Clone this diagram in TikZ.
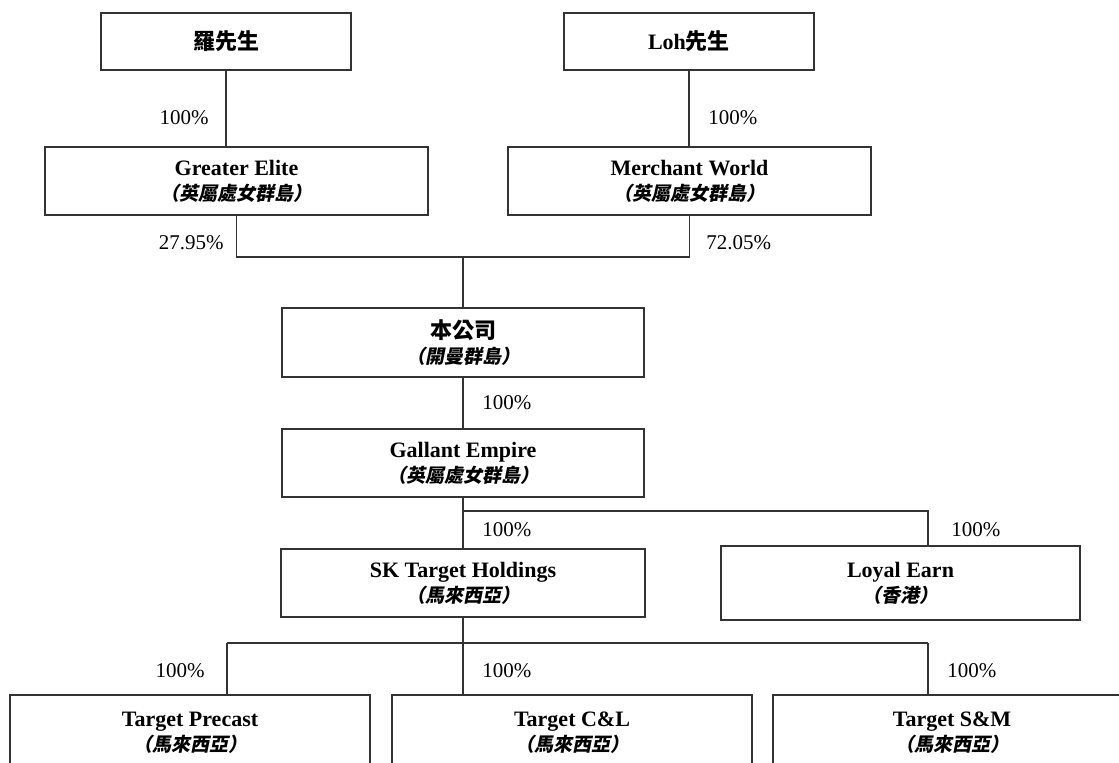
\documentclass[tikz,border=0pt]{standalone}
\usepackage{fontspec}
\setmainfont{Liberation Serif}
\newfontfamily\cjk{Noto Sans CJK TC}
\newfontfamily\cjkit[FakeSlant=0.2]{Noto Sans CJK TC}
\newcommand{\loc}[1]{{\cjkit\fontsize{9.5}{12.5}\selectfont （#1）}}

\begin{document}
\begin{tikzpicture}[x=0.5pt, y=-0.5pt,
    ent/.style={draw=black!80, line width=0.6pt, align=center, inner sep=0pt, font=\fontsize{11}{12.5}\selectfont\bfseries},
    pct/.style={inner sep=0pt, font=\fontsize{10.5}{12}\selectfont},
    link/.style={draw=black!80, line width=0.6pt}]
    \useasboundingbox (0,0) rectangle (1119,763);
    \clip (0,0) rectangle (1119,763);

    \node[ent, minimum width=125pt, minimum height=28.5pt] (luo) at (226,41.5) {\cjk 羅先生};
    \node[ent, minimum width=125pt, minimum height=28.5pt] (loh) at (689,41.5) {Loh{\cjk 先生}};
    \node[ent, minimum width=191.5pt, minimum height=34pt] (ge) at (236.5,181) {Greater Elite\\\loc{英屬處女群島}};
    \node[ent, minimum width=181.5pt, minimum height=34pt] (mw) at (689.5,181) {Merchant World\\\loc{英屬處女群島}};
    \node[ent, minimum width=181pt, minimum height=34.5pt] (co) at (463,342.5) {{\cjk 本公司}\\\loc{開曼群島}};
    \node[ent, minimum width=181pt, minimum height=34pt] (gal) at (463,463) {Gallant Empire\\\loc{英屬處女群島}};
    \node[ent, minimum width=182pt, minimum height=34pt] (skt) at (463,583) {SK Target Holdings\\\loc{馬來西亞}};
    \node[ent, minimum width=179.5pt, minimum height=37pt] (le) at (900.5,583) {Loyal Earn\\\loc{香港}};
    \node[ent, minimum width=180pt, minimum height=38pt] (tp) at (190,733) {Target Precast\\\loc{馬來西亞}};
    \node[ent, minimum width=180pt, minimum height=38pt] (tcl) at (572,733) {Target C\&L\\\loc{馬來西亞}};
    \node[ent, minimum width=179pt, minimum height=38pt] (tsm) at (952,733) {Target S\&M\\\loc{馬來西亞}};

    \node[pct, anchor=east] (p1) at (209,118) {100\%};
    \node[pct, anchor=west] (p2) at (708,118) {100\%};
    \node[pct, anchor=east] (p3) at (224,243) {27.95\%};
    \node[pct, anchor=west] (p4) at (706,243) {72.05\%};
    \node[pct, anchor=west] (p5) at (482,403) {100\%};
    \node[pct, anchor=west] (p6) at (482,530) {100\%};
    \node[pct, anchor=west] (p7) at (951,530) {100\%};
    \node[pct, anchor=east] (p8) at (205,671) {100\%};
    \node[pct, anchor=west] (p9) at (482,671) {100\%};
    \node[pct, anchor=west] (p10) at (947,671) {100\%};

    \coordinate (j1) at (463,257);
    \coordinate (j2) at (463,511);
    \coordinate (j3) at (928,511);
    \coordinate (j4) at (227,643);
    \coordinate (j5) at (928,643);

    \draw[link] (luo) -- (luo |- ge.north);
    \draw[link] (loh) -- (loh |- mw.north);
    \draw[link] (ge.south) |- (j1) -| (mw.south);
    \draw[link] (j1) -- (co);
    \draw[link] (co) -- (gal);
    \draw[link] (gal) -- (skt);
    \draw[link] (j2) -- (j3) -- (j3 |- le.north);
    \draw[link] (skt) -- (skt |- tcl.north);
    \draw[link] (j4) -- (j5);
    \draw[link] (j4) -- (j4 |- tp.north);
    \draw[link] (j5) -- (j5 |- tsm.north);
\end{tikzpicture}
\end{document}
